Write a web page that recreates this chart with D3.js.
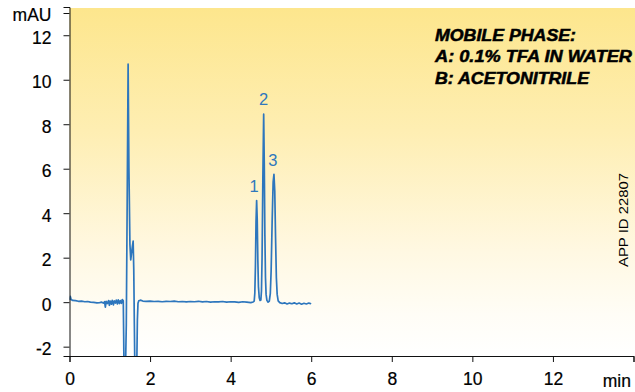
<!DOCTYPE html>
<html>
<head>
<meta charset="utf-8">
<script src="https://cdn.jsdelivr.net/npm/d3@7"></script>
<style>
  html, body { margin: 0; padding: 0; background: #fff; }
  svg { display: block; }
  text { font-family: "Liberation Sans", Arial, Helvetica, sans-serif; }
</style>
</head>
<body>
<script>
// ---- data ----
const time = [
  0.00,0.02,0.04,0.08,0.15,0.22,0.30,0.38,0.45,0.52,0.60,0.68,0.75,0.80,0.84,0.87,0.89,0.91,0.94,0.97,0.99,
  1.01,1.04,1.06,1.09,1.11,1.14,1.16,1.19,1.21,1.24,1.26,1.29,1.31,1.335,
  1.345,1.355,1.385,1.41,1.43,1.455,1.475,1.50,1.52,1.54,1.56,1.58,1.595,1.61,1.625,1.665,1.685,1.70,1.72,1.76,1.82,
  1.9,2.0,2.1,2.2,2.3,2.4,2.5,2.6,2.7,2.8,2.9,3.0,3.1,3.2,3.3,3.4,3.5,3.6,3.7,3.8,3.9,4.0,4.1,4.2,4.3,4.4,4.5,4.56,
  4.585,4.60,4.615,4.63,4.645,4.66,4.675,4.69,4.71,4.73,4.75,4.765,4.78,4.80,4.82,4.835,4.85,4.865,4.88,4.90,4.93,
  4.96,4.985,5.005,5.03,5.055,5.075,5.095,5.115,5.135,5.155,5.18,5.22,5.28,5.34,5.40,5.46,5.52,5.58,5.64,5.70,5.76,5.82,5.88,5.94,6.00
];
const signal = [
  0.10,0.26,0.12,0.08,0.07,0.04,0.05,0.02,0.03,0.00,-0.01,-0.03,-0.02,0.00,-0.04,0.02,-0.22,0.04,-0.06,0.07,-0.14,
  0.05,-0.09,0.08,-0.12,0.06,-0.04,0.09,-0.08,0.10,-0.06,0.07,-0.05,0.12,0.06,
  -1.5,-3.5,-3.5,-1.0,4.0,10.7,6.0,2.6,1.9,2.2,2.5,2.75,1.5,-1.0,-3.5,-3.5,-0.8,-0.05,0.06,0.09,0.05,
  0.04,0.05,0.03,0.04,0.02,0.04,0.03,0.05,0.02,0.03,0.01,0.03,0.02,0.04,0.01,0.03,0.00,0.02,0.01,0.03,0.00,0.02,0.01,-0.01,0.02,0.00,-0.02,0.01,
  0.05,0.4,1.6,3.6,4.57,3.7,1.9,0.7,0.2,0.08,0.1,0.5,2.0,5.6,8.45,6.2,3.0,1.1,0.35,0.08,0.0,
  0.05,0.4,1.4,3.6,5.4,5.75,5.0,2.9,1.1,0.35,0.06,-0.02,-0.06,-0.03,-0.08,-0.04,-0.07,-0.03,-0.08,-0.04,-0.09,-0.05,-0.08,-0.04,-0.07
];
const peakNames = ["1", "2", "3"];
const peakTimes = [4.645, 4.82, 5.075];
const peakHeights = [4.57, 8.45, 5.75];
const xTicks = [0, 2, 4, 6, 8, 10, 12, 14];
const xUnit = "min";
const yTicks = [-2, 0, 2, 4, 6, 8, 10, 12, 13];
const yUnit = "mAU";
const noteLines = ["MOBILE PHASE:", "A: 0.1% TFA IN WATER", "B: ACETONITRILE"];
const appId = "APP ID 22807";

// ---- layout ----
const W = 635, H = 392;
const svg = d3.select("body").append("svg").attr("width", W).attr("height", H);

const x = d3.scaleLinear().domain([0, 14]).range([69.5, 633.5]);
const y = d3.scaleLinear().domain([-2.42, 13.27]).range([356, 7]);

const defs = svg.append("defs");
const grad = defs.append("linearGradient").attr("id", "bg")
  .attr("x1", 0).attr("y1", 0).attr("x2", 0).attr("y2", 1);
grad.append("stop").attr("offset", "0%").attr("stop-color", "#fde68d");
grad.append("stop").attr("offset", "35%").attr("stop-color", "#feeeb2");
grad.append("stop").attr("offset", "70%").attr("stop-color", "#fff8e2");
grad.append("stop").attr("offset", "88%").attr("stop-color", "#fffdf6");
grad.append("stop").attr("offset", "100%").attr("stop-color", "#ffffff");

svg.append("rect").attr("x", 69.5).attr("y", 8).attr("width", W - 69.5).attr("height", 356 - 8)
  .attr("fill", "url(#bg)");

defs.append("clipPath").attr("id", "plotclip").append("rect")
  .attr("x", 69.5).attr("y", 0).attr("width", W - 69.5).attr("height", 356);

// trace
const pts = time.map((t, i) => [t, signal[i]]);
const line = d3.line().x(d => x(d[0])).y(d => y(d[1]));
svg.append("path").datum(pts)
  .attr("clip-path", "url(#plotclip)")
  .attr("d", line)
  .attr("fill", "none")
  .attr("stroke", "#2d76bd")
  .attr("stroke-width", 1.7)
  .attr("stroke-linejoin", "round");

// axes
const yAxis = d3.axisLeft(y).tickValues(yTicks).tickSize(6).tickPadding(12)
  .tickFormat(d => d === 13 ? yUnit : String(d));
const gy = svg.append("g").attr("transform", "translate(69.5,0)").call(yAxis);
gy.select(".domain").attr("stroke", "#111");
gy.selectAll(".tick line").attr("stroke", "#111");
gy.selectAll(".tick text").attr("font-size", 17.5).attr("fill", "#000").attr("dy", "0.45em")
  .attr("stroke", "#000").attr("stroke-width", 0.2)
  .attr("font-family", "'Liberation Sans', Arial, sans-serif");

const xAxis = d3.axisBottom(x).tickValues(xTicks).tickSize(6).tickPadding(11)
  .tickFormat(d => d === 14 ? "" : String(d));
const gx = svg.append("g").attr("transform", "translate(0,356)").call(xAxis);
gx.select(".domain").attr("stroke", "#111");
gx.selectAll(".tick line").attr("stroke", "#111");
gx.selectAll(".tick text").attr("font-size", 17.5).attr("fill", "#000")
  .attr("stroke", "#000").attr("stroke-width", 0.2)
  .attr("font-family", "'Liberation Sans', Arial, sans-serif");
svg.append("text").attr("x", 631).attr("y", 386.5).attr("text-anchor", "end")
  .attr("font-size", 17.5).attr("fill", "#000").attr("stroke", "#000").attr("stroke-width", 0.2)
  .text(xUnit);

// peak labels
svg.selectAll(".plabel").data(peakNames).enter().append("text")
  .attr("class", "plabel")
  .attr("x", (d, i) => x(peakTimes[i]) + [-2.5, 0, -1][i])
  .attr("y", (d, i) => y(peakHeights[i]) - [9, 9, 8][i])
  .attr("text-anchor", "middle")
  .attr("font-size", 16.5)
  .attr("fill", "#2f78bd")
  .text(d => d);

// mobile phase note
const noteLen = [141, 197, 154];
svg.selectAll(".note").data(noteLines).enter().append("text")
  .attr("class", "note")
  .attr("x", 435)
  .attr("y", (d, i) => 40.7 + i * 21.6)
  .attr("font-size", 16)
  .attr("font-weight", "bold")
  .attr("font-style", "italic")
  .attr("fill", "#000")
  .attr("stroke", "#000")
  .attr("stroke-width", 0.5)
  .attr("textLength", (d, i) => noteLen[i])
  .attr("lengthAdjust", "spacingAndGlyphs")
  .text(d => d);

// app id
svg.append("text")
  .attr("transform", "translate(628,220) rotate(-90)")
  .attr("text-anchor", "middle")
  .attr("font-size", 13)
  .attr("fill", "#000")
  .attr("textLength", 94)
  .attr("lengthAdjust", "spacingAndGlyphs")
  .text(appId);
</script>
</body>
</html>
